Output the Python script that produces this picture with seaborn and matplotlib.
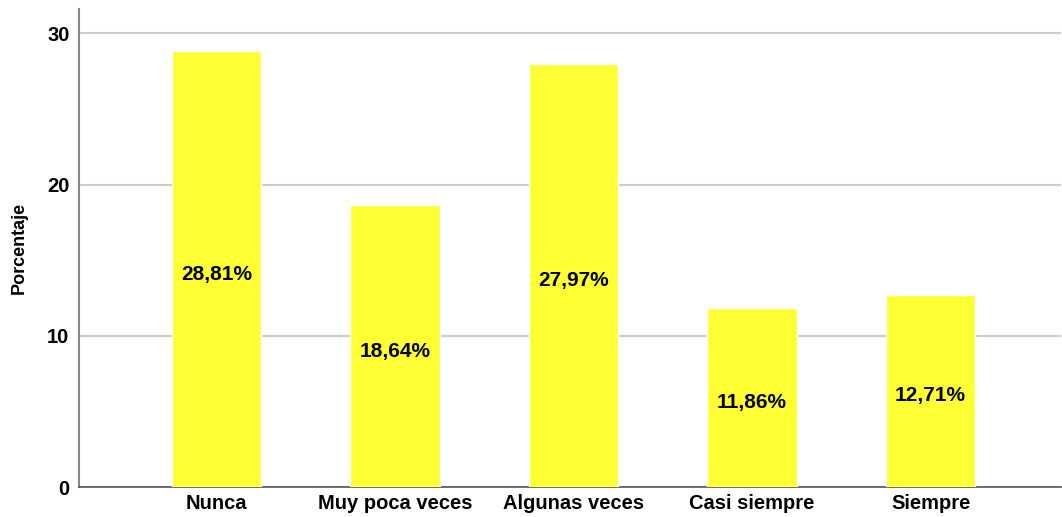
import matplotlib
matplotlib.use("Agg")
import matplotlib.pyplot as plt
import seaborn as sns
import pandas as pd

# Frequency of responses (percent)
categorias = ["Nunca", "Muy poca veces", "Algunas veces", "Casi siempre", "Siempre"]
porcentajes = [28.81, 18.64, 27.97, 11.86, 12.71]
etiquetas = ["28,81%", "18,64%", "27,97%", "11,86%", "12,71%"]
yticks = [0, 10, 20, 30]

sns.set_style("white")
plt.rcParams['font.family'] = ['Liberation Sans', 'DejaVu Sans']

df = pd.DataFrame({"categoria": categorias, "porcentaje": porcentajes})

fig, ax = plt.subplots(figsize=(10.62, 5.17), dpi=100)
fig.subplots_adjust(left=0.0745, right=0.999, top=0.982, bottom=0.058)

sns.barplot(data=df, x="categoria", y="porcentaje", color="#FFFF33",
            saturation=1, width=0.5, ax=ax, zorder=3)

# labels centred in each bar (a touch below the middle, like SPSS)
for i, (v, txt) in enumerate(zip(porcentajes, etiquetas)):
    ax.annotate(txt, xy=(i, v / 2), xytext=(0, -5), textcoords='offset pixels',
                ha='center', va='center', fontsize=15, fontweight='bold',
                color='black', zorder=4)

ax.set_xlim(-0.77, 4.73)
ax.set_ylim(0, 31.6)
ax.set_yticks(yticks)
ax.yaxis.grid(True, color='#cccccc', linewidth=1.5, zorder=0)
ax.set_axisbelow(True)

ax.set_xlabel("")
ax.set_ylabel("Porcentaje", fontsize=13, fontweight='bold', labelpad=14,
              color='black')
ax.tick_params(axis='both', length=0, labelsize=14.5, colors='black')
ax.tick_params(axis='x', pad=5)
ax.tick_params(axis='y', pad=7)
for lbl in ax.get_xticklabels() + ax.get_yticklabels():
    lbl.set_fontweight('bold')

for s in ['top', 'right']:
    ax.spines[s].set_visible(False)
ax.spines['left'].set_color('#888888')
ax.spines['left'].set_linewidth(1.5)
ax.spines['bottom'].set_color('#555555')
ax.spines['bottom'].set_linewidth(1.2)

plt.savefig("out.png", dpi=100)
plt.close()
